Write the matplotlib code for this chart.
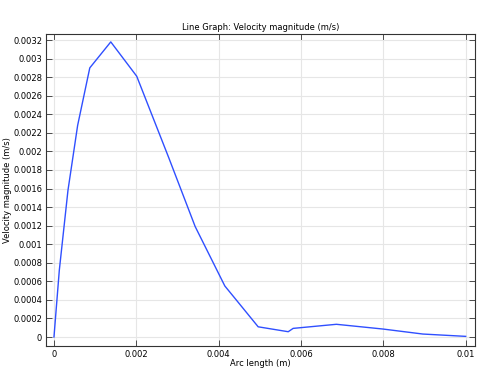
import matplotlib
matplotlib.use('Agg')
import matplotlib.pyplot as plt
import numpy as np

# Arc length (m) and velocity magnitude (m/s)
arc_length = [0.0, 0.00013, 0.00034, 0.000575, 0.00087, 0.00138, 0.00201,
              0.00279, 0.00343, 0.00415, 0.00439, 0.00496, 0.00569,
              0.00581, 0.00686, 0.00799, 0.00896, 0.01]
velocity = [0.0, 0.00072, 0.00158, 0.00228, 0.0029, 0.00318, 0.00281,
            0.00193, 0.00119, 0.00055, 0.00042, 0.00011, 0.000057,
            0.000093, 0.000137, 0.000086, 0.000032, 0.000007]

x_ticks = [0, 0.002, 0.004, 0.006, 0.008, 0.01]
x_tick_labels = ['0', '0.002', '0.004', '0.006', '0.008', '0.01']
y_ticks = np.round(np.arange(0, 0.00321, 0.0002), 4)
y_tick_labels = ['%g' % v for v in y_ticks]

fig = plt.figure(figsize=(4.85, 3.75), dpi=100)
ax = fig.add_axes([0.0948, 0.0773, 0.884, 0.832])

ax.plot(arc_length, velocity, color='#2f4fff', linewidth=1.0)

ax.set_xlim(-0.000194, 0.01022)
ax.set_ylim(-0.000097, 0.003265)
ax.set_xticks(x_ticks)
ax.set_xticklabels(x_tick_labels)
ax.set_yticks(y_ticks)
ax.set_yticklabels(y_tick_labels)

ax.grid(True, color='#e6e6e6', linewidth=0.8)
ax.set_axisbelow(True)
ax.tick_params(direction='in', top=True, right=True, labelsize=6,
               length=4, width=0.6, color='#333333', pad=2.8)
for s in ax.spines.values():
    s.set_linewidth(0.8)
    s.set_color('#333333')

ax.set_title('Line Graph: Velocity magnitude (m/s)', fontsize=6, pad=3)
ax.set_xlabel('Arc length (m)', fontsize=6, labelpad=0)
ax.set_ylabel('Velocity magnitude (m/s)', fontsize=6)
ax.yaxis.set_label_coords(-0.08, 0.5)

fig.savefig('out.png', dpi=100)
